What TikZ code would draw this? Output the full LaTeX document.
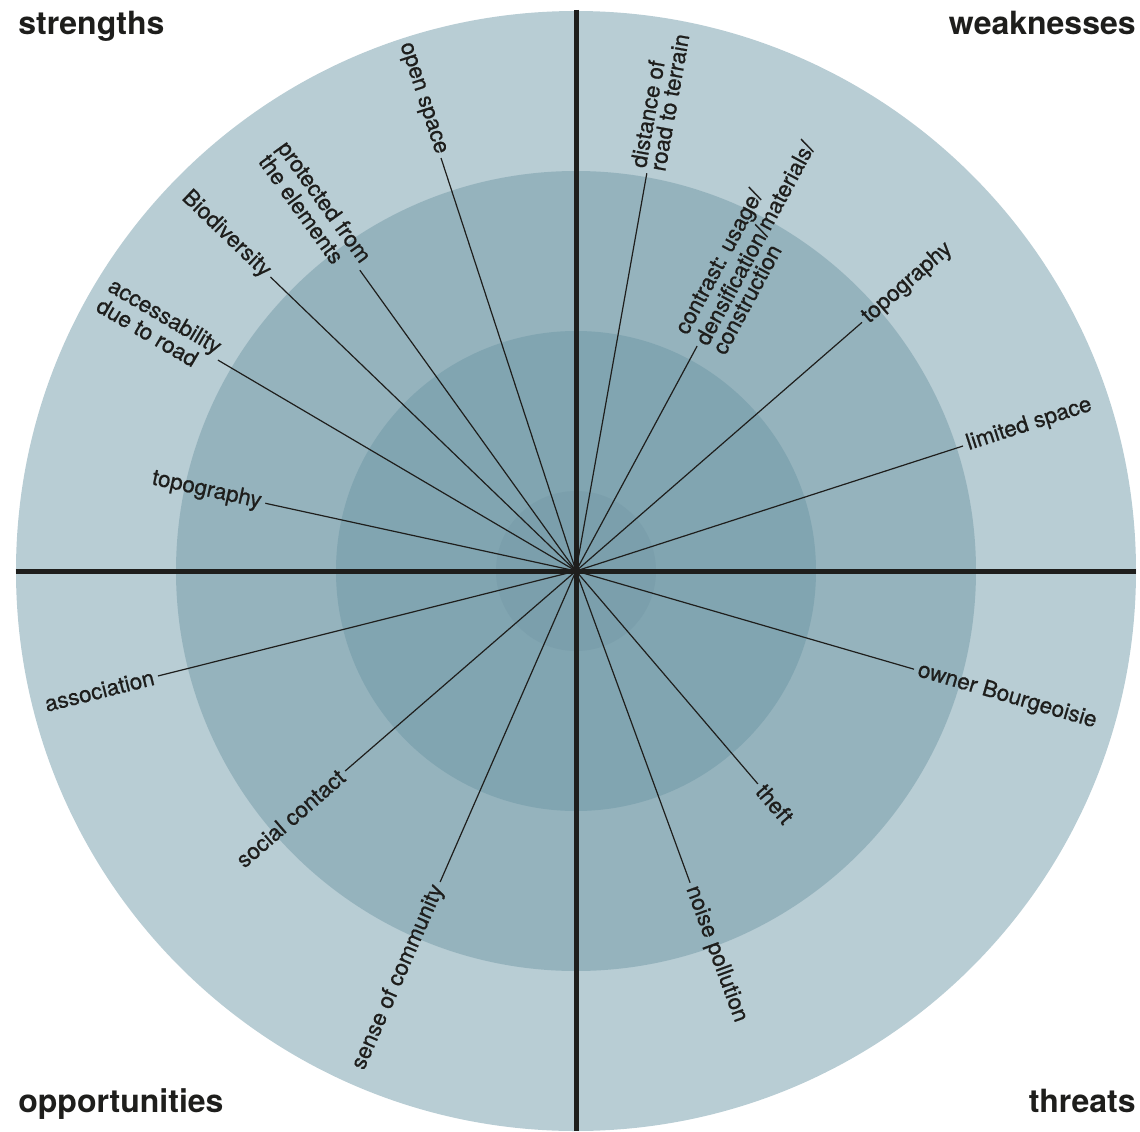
\documentclass[tikz,border=0pt]{standalone}
\usepackage{fontspec}
\setmainfont{TeX Gyre Heros}
\newfontfamily\factorfont[BoldFont={TeX Gyre Heros}, BoldFeatures={FakeBold=0.7}]{TeX Gyre Heros}
\usetikzlibrary{calc}
\definecolor{ringOut}{HTML}{B8CDD4}
\definecolor{ringMid}{HTML}{95B3BD}
\definecolor{ringIn}{HTML}{81A5B1}
\definecolor{ringCore}{HTML}{7B9FAC}
\definecolor{ink}{HTML}{1E1E1C}
\tikzset{
	swot/.style={font=\fontsize{16}{18}\selectfont\bfseries, text=ink, inner sep=0pt},
	factor/.style={font=\factorfont\bfseries\fontsize{11.2}{9.8}\selectfont, text=ink, inner sep=2pt, align=left},
	factorL/.style={factor, anchor=east},
	factorR/.style={factor, anchor=west},
	spoke/.style={line width=0.6pt, draw=ink},
	axis/.style={line width=2.5pt, draw=ink}
}

\begin{document}
\begin{tikzpicture}[x=0.5pt, y=0.5pt]
		%%%%% START %%%%%
		\useasboundingbox (-576, -560) rectangle (564, 571);
		\coordinate (c) at (0, 0);
		
		% rings
		\fill[ringOut] (c) circle (560);
		\fill[ringMid] (c) circle (400);
		\fill[ringIn] (c) circle (240);
		\fill[ringCore] (c) circle (80);
		
		% strengths
		\node[factorL, rotate=-12.3] (topoL) at (167.7:318) {topography};
		\node[factorL, rotate=-30.5] (access) at (149.5:415.6) {accessability\\due to road};
		\node[factorL, rotate=-43.9] (biodiv) at (136.1:424) {Biodiversity};
		\node[factorL, rotate=-54.3] (protect) at (125.7:370.5) {protected from\\the elements};
		\node[factorL, rotate=-71.9] (openspace) at (108.1:434.5) {open space};
		
		% weaknesses
		\node[factorR, rotate=79.9] (distance) at (79.9:404) {distance of\\road to terrain};
		\node[factorR, rotate=61.7] (contrast) at (61.7:255.5) {contrast: usage/\\densification/materials/\\construction};
		\node[factorR, rotate=41] (topoR) at (41:379) {topography};
		\node[factorR, rotate=17.9] (limited) at (17.9:406.7) {limited space};
		
		% threats
		\node[factorR, rotate=-16.2] (owner) at (-16.2:352) {owner Bourgeoisie};
		\node[factorR, rotate=-49.5] (theft) at (-49.5:280) {theft};
		\node[factorR, rotate=-69.9] (noise) at (-69.9:332) {noise pollution};
		
		% opportunities
		\node[factorL, rotate=66.4] (sense) at (246.4:339.4) {sense of community};
		\node[factorL, rotate=40.9] (social) at (220.9:305.5) {social contact};
		\node[factorL, rotate=14.1] (assoc) at (194.1:431) {association};
		
		\draw[spoke] (c) -- (topoL.east);
		\draw[spoke] (c) -- (access.east);
		\draw[spoke] (c) -- (biodiv.east);
		\draw[spoke] (c) -- (protect.east);
		\draw[spoke] (c) -- (openspace.east);
		\draw[spoke] (c) -- (distance.west);
		\draw[spoke] (c) -- (contrast.west);
		\draw[spoke] (c) -- (topoR.west);
		\draw[spoke] (c) -- (limited.west);
		\draw[spoke] (c) -- (owner.west);
		\draw[spoke] (c) -- (theft.west);
		\draw[spoke] (c) -- (noise.west);
		\draw[spoke] (c) -- (sense.east);
		\draw[spoke] (c) -- (social.east);
		\draw[spoke] (c) -- (assoc.east);
		
		% axes
		\coordinate (top) at (0, 561);
		\coordinate (bottom) at (0, -560);
		\coordinate (left) at (-560, 0);
		\coordinate (right) at (560, 0);
		\draw[axis] (top) -- (bottom);
		\draw[axis] (left) -- (right);
		
		\node[swot, anchor=base west] (strengths) at (-558, 536) {strengths};
		\node[swot, anchor=base east] (weaknesses) at (560, 536) {weaknesses};
		\node[swot, anchor=base west] (opportunities) at (-558, -541) {opportunities};
		\node[swot, anchor=base east] (threats) at (560, -541) {threats};
		%%%%% END %%%%%
	\end{tikzpicture}
\end{document}
